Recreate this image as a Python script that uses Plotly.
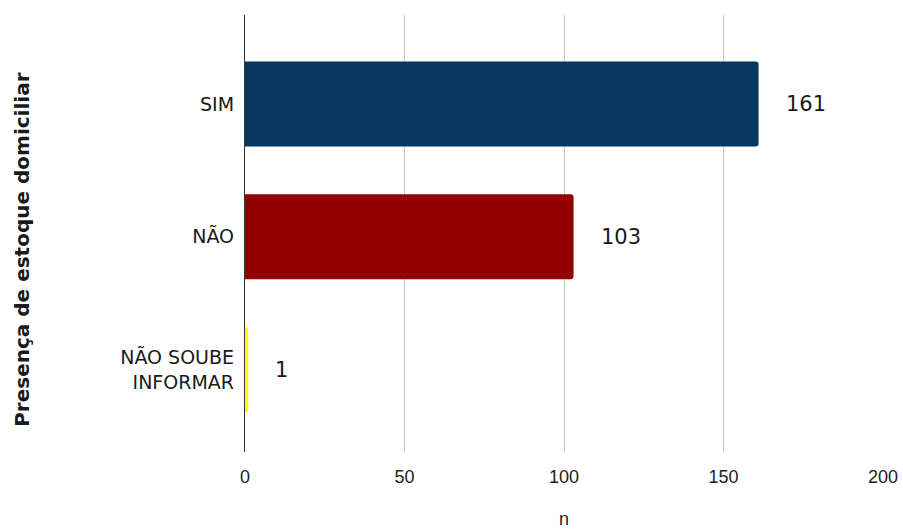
import plotly.graph_objects as go

categories = ["SIM", "NÃO", "NÃO SOUBE<br>INFORMAR"]
values = [161, 103, 1]
colors = ["#07375F", "#930000", "#FFFF00"]
x_ticks = [0, 50, 100, 150, 200]

fig = go.Figure()
fig.add_trace(go.Bar(
    y=categories, x=values, orientation="h",
    marker=dict(color=colors, line=dict(width=0), cornerradius=3),
    width=0.64, showlegend=False, hoverinfo="skip",
))

for c, v in zip(categories, values):
    fig.add_annotation(x=v, y=c, text=str(v), showarrow=False,
                       xanchor="left", xshift=25,
                       font=dict(family="DejaVu Sans", size=21, color="#1a1a1a"))

fig.add_annotation(xref="paper", yref="paper", x=-0.35, y=0.462,
                   text="<b>Presença de estoque domiciliar</b>", textangle=-90,
                   showarrow=False, xanchor="center", yanchor="middle",
                   font=dict(family="DejaVu Sans", size=20, color="#1a1a1a"))

fig.update_layout(
    width=903, height=529,
    margin=dict(l=245, r=20, t=15, b=77),
    paper_bgcolor="white", plot_bgcolor="white",
    xaxis=dict(range=[0, 200], tickvals=x_ticks, showgrid=True, automargin=False,
               gridcolor="#c8c8c8", gridwidth=1, zeroline=False,
               showline=False, ticks="", ticklabelstandoff=12,
               tickfont=dict(family="Liberation Sans", size=18, color="#222"),
               title=dict(text="n", standoff=32,
                          font=dict(family="Liberation Sans", size=18, color="#222"))),
    yaxis=dict(type="category", range=[2.62, -0.67], showgrid=False, automargin=False,
               showline=True, linecolor="#333", linewidth=1.3,
               ticks="", ticklabelstandoff=6,
               tickfont=dict(family="DejaVu Sans", size=19, color="#1a1a1a")),
)

fig.write_html("out.html")
